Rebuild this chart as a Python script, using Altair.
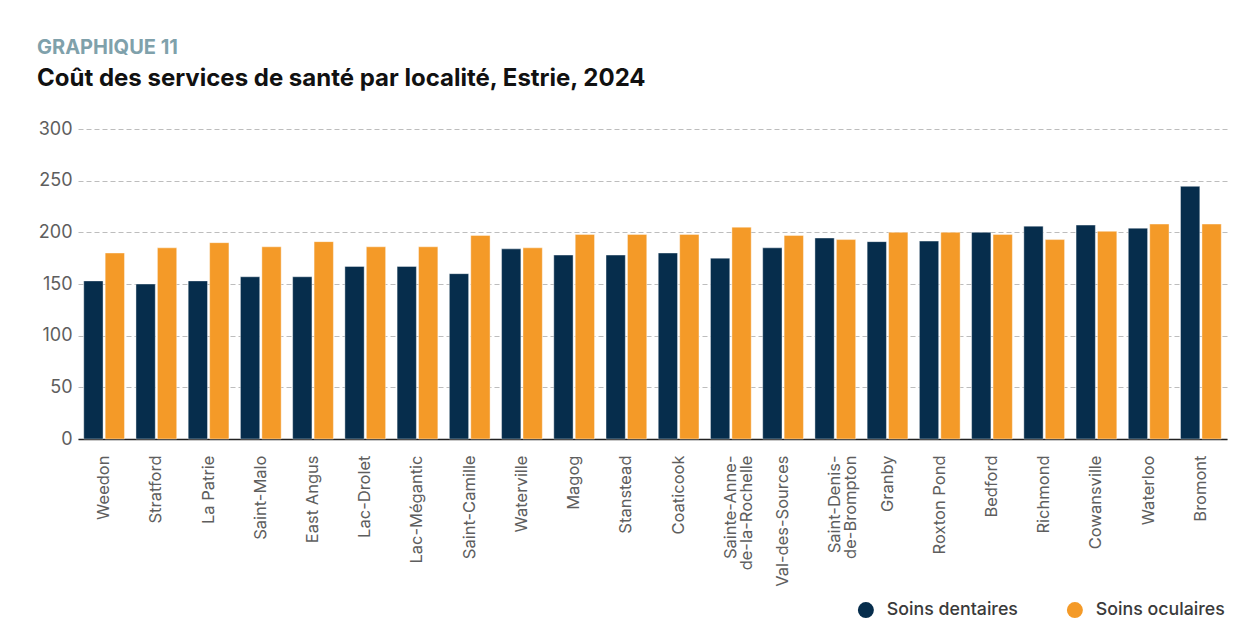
import altair as alt
import pandas as pd

localites = [
    "Weedon", "Stratford", "La Patrie", "Saint-Malo", "East Angus", "Lac-Drolet",
    "Lac-Mégantic", "Saint-Camille", "Waterville", "Magog", "Stanstead", "Coaticook",
    "Sainte-Anne-\nde-la-Rochelle", "Val-des-Sources", "Saint-Denis-\nde-Brompton",
    "Granby", "Roxton Pond", "Bedford", "Richmond", "Cowansville", "Waterloo", "Bromont",
]
soins_dentaires = [153, 150, 153, 157, 157, 167, 167, 160, 184, 178, 178, 180,
                   175, 185, 194.5, 191, 191.5, 200, 206, 207, 204, 244.5]
soins_oculaires = [180, 185, 190, 186, 191, 186, 186, 197, 185, 198, 198, 198,
                   205, 197, 193, 200, 200, 198, 193, 201, 208, 208]
series = ["Soins dentaires", "Soins oculaires"]
couleurs = ["#062d4c", "#f49a28"]
y_ticks = [0, 50, 100, 150, 200, 250, 300]

rows = []
for i, loc in enumerate(localites):
    rows.append({"localite": loc, "serie": series[0], "valeur": soins_dentaires[i]})
    rows.append({"localite": loc, "serie": series[1], "valeur": soins_oculaires[i]})
df = pd.DataFrame(rows)

FONT = "Inter"

chart = alt.Chart(df).mark_bar(
    stroke="white", strokeWidth=0.8, strokeOpacity=0.5
).encode(
    x=alt.X(
        "localite:N", sort=localites, title=None,
        scale=alt.Scale(paddingInner=0.22, paddingOuter=0.11),
        axis=alt.Axis(
            labelAngle=270, labelFontSize=16.5, labelColor="#5e5e5e", labelFont=FONT,
            labelPadding=16, ticks=False, domainColor="#222222", domainWidth=1.5,
            labelExpr="split(datum.label, '\\n')", labelLineHeight=16,
            labelAlign="right", labelBaseline="middle",
        ),
    ),
    xOffset=alt.XOffset("serie:N", sort=series, scale=alt.Scale(paddingInner=0.1)),
    y=alt.Y(
        "valeur:Q", title=None,
        scale=alt.Scale(domain=[0, 300], nice=False),
        axis=alt.Axis(
            values=y_ticks, domain=False, ticks=False, labelFontSize=18,
            labelColor="#5e5e5e", labelFont=FONT, labelPadding=6,
            gridDash=[5, 3], gridColor="#bdbdbd", gridWidth=1,
        ),
    ),
    color=alt.Color(
        "serie:N", sort=series,
        scale=alt.Scale(domain=series, range=couleurs),
        legend=alt.Legend(
            title=None, orient="none", legendX=779, legendY=472, direction="horizontal",
            symbolType="circle", symbolSize=256, symbolStrokeWidth=0,
            labelFontSize=17.8, labelFont=FONT, labelFontWeight=500, labelColor="#3a3a3a",
            labelOffset=12, columnPadding=48,
        ),
    ),
).properties(
    width=1149,
    height=310,
    title=alt.TitleParams(
        text="GRAPHIQUE 11",
        subtitle="Coût des services de santé par localité, Estrie, 2024",
        anchor="start", frame="group", dx=-41, offset=29,
        font=FONT, fontSize=20, fontWeight="bold", color="#7fa1ab",
        subtitleFont=FONT, subtitleFontSize=24, subtitleFontWeight="bold",
        subtitleColor="#111111", subtitlePadding=9,
    ),
    background="white",
    autosize=alt.AutoSizeParams(type="none"),
    padding={"left": 70, "top": 121, "right": 4, "bottom": 192},
).configure_view(stroke=None)

chart.save("out.html", embed_options={"renderer": "svg", "actions": False})
